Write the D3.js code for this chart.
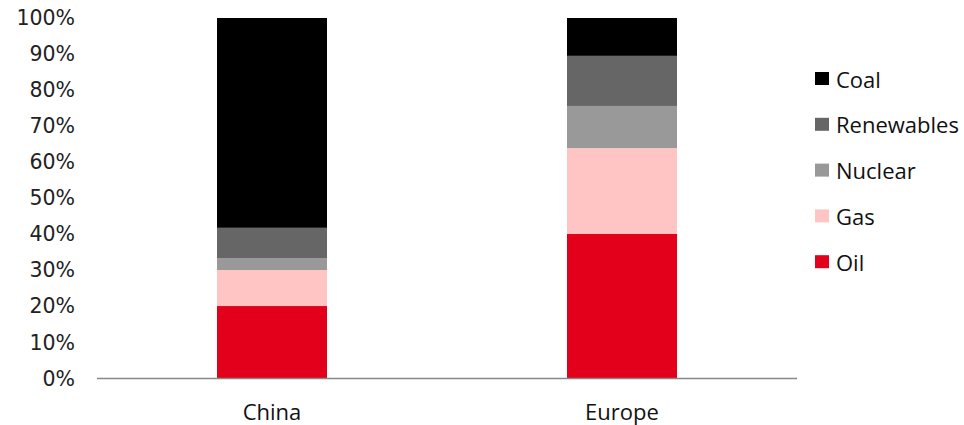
<!DOCTYPE html>
<html>
<head>
<meta charset="utf-8">
<script src="https://cdn.jsdelivr.net/npm/d3@7"></script>
<style>
  body { margin: 0; background: #fff; }
  svg { display: block; }
  .yAxis text { font-family: "DejaVu Sans", sans-serif; font-size: 20.5px; fill: #222; }
  .xLabel, .legend text { font-family: "Open Sans", sans-serif; font-size: 22px; fill: #111; }
</style>
</head>
<body>
<svg id="chart"></svg>
<script>
const width = 964, height = 425;
const regions = ['China', 'Europe'];
const fuels = ['Oil', 'Gas', 'Nuclear', 'Renewables', 'Coal'];
const oil = [20.1, 40.1];
const gas = [10.0, 23.8];
const nuclear = [3.3, 11.7];
const renewables = [8.4, 13.9];
const coal = [58.2, 10.5];
const yTicks = [0, 10, 20, 30, 40, 50, 60, 70, 80, 90, 100];
const colors = ['#e2001a', '#ffc5c5', '#999999', '#666666', '#000000'];

const plotLeft = 97, plotRight = 797, plotTop = 18, plotBottom = 378.5;

const rows = regions.map((r, i) => ({
  region: r, Oil: oil[i], Gas: gas[i], Nuclear: nuclear[i], Renewables: renewables[i], Coal: coal[i]
}));

const svg = d3.select('#chart').attr('width', width).attr('height', height);

// bar 110px wide in a 350px band
const x = d3.scaleBand().domain(regions).range([plotLeft, plotRight]).paddingInner(0.6857).paddingOuter(0.3429);
const y = d3.scaleLinear().domain([0, 100]).range([plotBottom, plotTop]);
const color = d3.scaleOrdinal().domain(fuels).range(colors);

// y axis labels (no line)
const yAxis = d3.axisLeft(y).tickValues(yTicks).tickFormat(d => d + '%').tickSize(0).tickPadding(0);
svg.append('g')
  .attr('class', 'yAxis')
  .attr('transform', `translate(${75},0)`)
  .call(yAxis)
  .call(g => g.select('.domain').remove());

const series = d3.stack().keys(fuels)(rows);

svg.append('g').selectAll('g')
  .data(series)
  .enter().append('g')
    .attr('fill', d => color(d.key))
  .selectAll('rect')
  .data(d => d)
  .enter().append('rect')
    .attr('x', d => x(d.data.region))
    .attr('width', x.bandwidth())
    .attr('y', d => y(d[1]))
    .attr('height', d => y(d[0]) - y(d[1]));

// baseline
svg.append('line')
  .attr('x1', plotLeft).attr('x2', plotRight)
  .attr('y1', plotBottom).attr('y2', plotBottom)
  .attr('stroke', '#888').attr('stroke-width', 1.3);

svg.selectAll('.xLabel')
  .data(regions)
  .enter().append('text')
    .attr('class', 'xLabel')
    .attr('x', d => x(d) + x.bandwidth() / 2)
    .attr('y', 420)
    .attr('text-anchor', 'middle')
    .text(d => d);

// legend, Coal on top
const legendItems = fuels.slice().reverse();
const legend = svg.append('g').attr('class', 'legend');
const lg = legend.selectAll('g')
  .data(legendItems)
  .enter().append('g')
    .attr('transform', (d, i) => `translate(815,${72 + i * 45.8})`);
lg.append('rect')
  .attr('width', 14).attr('height', 13)
  .attr('fill', d => color(d));
lg.append('text')
  .attr('x', 21).attr('y', 15.5)
  .text(d => d);
</script>
</body>
</html>
